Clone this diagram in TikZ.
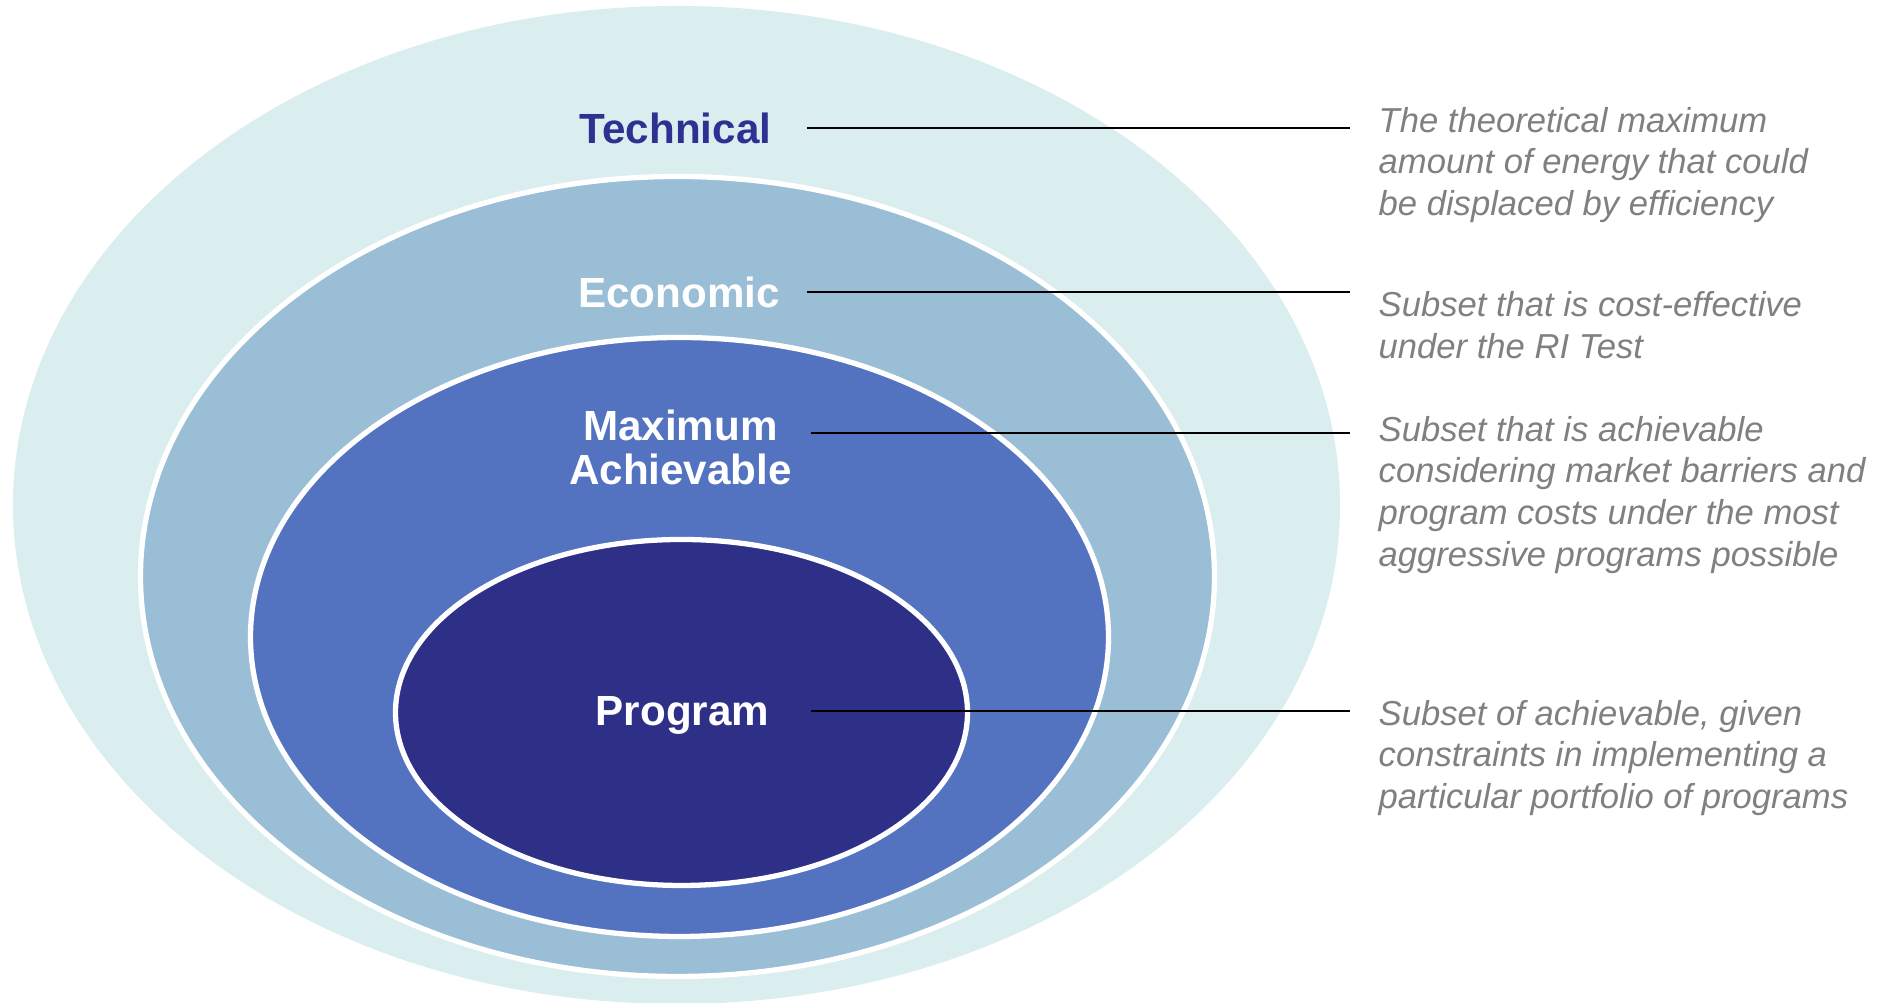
\documentclass[tikz,border=0pt]{standalone}
\usepackage{fontspec}
\setmainfont{Liberation Sans}
\usepackage{xcolor}
\usepackage{tikz}
\definecolor{techfill}{RGB}{218,237,239}
\definecolor{econfill}{RGB}{154,190,214}
\definecolor{maxfill}{RGB}{83,115,193}
\definecolor{progfill}{RGB}{46,48,135}
\definecolor{techtext}{RGB}{46,49,146}
\definecolor{descgrey}{RGB}{128,128,128}

\begin{document}
\begin{tikzpicture}[
    ring/.style={draw=white, line width=1.5pt},
    ringlabel/.style={font=\fontsize{12}{12.5}\selectfont\bfseries, inner sep=0pt, align=center},
    descbox/.style={font=\fontsize{9.85}{11.85}\selectfont\itshape, text=descgrey, align=left,
        anchor=north west, inner xsep=0.28cm, inner ysep=0pt},
    leadline/.style={black, line width=0.5pt}
]
    \useasboundingbox (0,0) rectangle (18.9,10.03);

    % Nested ellipses, outermost first
    \fill[techfill] (6.765,4.98) ellipse [x radius=6.635cm, y radius=4.99cm];
    \draw[ring, fill=econfill] (6.775,4.265) ellipse [x radius=5.37cm, y radius=4.0cm];
    \draw[ring, fill=maxfill] (6.795,3.66) ellipse [x radius=4.29cm, y radius=2.995cm];
    \draw[ring, fill=progfill] (6.815,2.905) ellipse [x radius=2.86cm, y radius=1.73cm];

    % Ring labels
    \node[ringlabel, text=techtext, anchor=base] (tech) at (6.755,8.597) {Technical};
    \node[ringlabel, text=white, anchor=base] (econ) at (6.79,6.953) {Economic};
    \node[ringlabel, text=white, anchor=north] (maxach) at (6.805,5.94) {Maximum\\Achievable};
    \node[ringlabel, text=white, anchor=base] (prog) at (6.825,2.77) {Program};

    % Start points of the leader lines
    \coordinate (tech-l) at (8.07,8.75);
    \coordinate (econ-l) at (8.07,7.11);
    \coordinate (maxach-l) at (8.11,5.70);
    \coordinate (prog-l) at (8.11,2.92);

    % Descriptions
    \node[descbox] (tech-d) at (13.50,8.967) {The theoretical maximum\\amount of energy that could\\be displaced by efficiency};
    \node[descbox] (econ-d) at (13.50,7.12) {Subset that is cost-effective\\under the RI Test};
    \node[descbox] (maxach-d) at (13.50,5.875) {Subset that is achievable\\considering market barriers and\\program costs under the most\\aggressive programs possible};
    \node[descbox] (prog-d) at (13.50,3.035) {Subset of achievable, given\\constraints in implementing a\\particular portfolio of programs};

    % Leader lines
    \foreach \n in {tech,econ,maxach,prog}
        \draw[leadline] (\n-l) -- (\n-l -| \n-d.west);
\end{tikzpicture}
\end{document}
